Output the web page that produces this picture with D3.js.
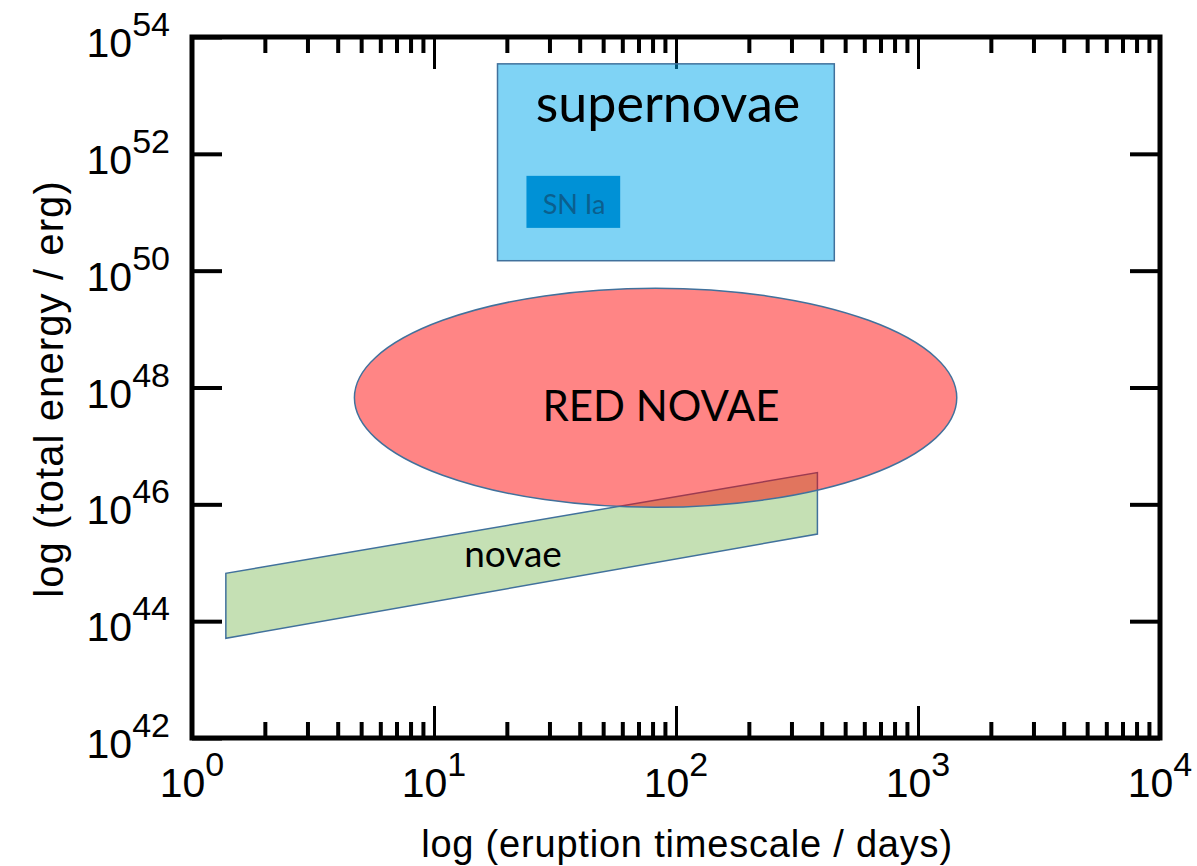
<!DOCTYPE html>
<html>
<head>
<meta charset="utf-8">
<script src="https://cdn.jsdelivr.net/npm/d3@7"></script>
<style>
  body { margin: 0; background: #fff; }
  svg { display: block; }
</style>
</head>
<body>
<div id="chart"></div>
<script>
var w = 1197, h = 866;

// axis decades (powers of ten)
var xExponents = [0, 1, 2, 3, 4];
var yExponents = [42, 44, 46, 48, 50, 52, 54];

// regions: [min, max] in days and erg
var snDays = [18.3, 451],   snErg = [1.48e50, 3.47e53];
var snIaDays = [24.1, 58.8], snIaErg = [5.4e50, 4.2e51];
var redNovaDays = [4.69, 1446], redNovaErg = [8.9e45, 5.0e49];
var novaDays = [1.38, 384];
var novaLowErg = [5.1e43, 3.1e45],  // lower edge, left -> right
    novaHighErg = [6.6e44, 3.5e46]; // upper edge, left -> right

var margin = {top: 37, right: 37, bottom: 128, left: 192},
    width = w - margin.left - margin.right,
    height = h - margin.top - margin.bottom;

var x = d3.scaleLog().domain([1, 1e4]).range([0, width]),
    y = d3.scaleLog().domain([1e42, 1e54]).range([height, 0]);

var svg = d3.select("#chart").append("svg")
    .attr("width", w)
    .attr("height", h);

var g = svg.append("g")
    .attr("transform", "translate(" + margin.left + "," + margin.top + ")");

// x ticks: minor 2..9, major at decades, inward on top and bottom
var xMinor = [];
xExponents.slice(0, -1).forEach(function(e) {
  for (var k = 2; k <= 9; k++) xMinor.push(k * Math.pow(10, e));
});
var xMajor = xExponents.map(function(e) { return Math.pow(10, e); });
var yMajor = yExponents.map(function(e) { return Math.pow(10, e); });

function tickStyle(sel, sw) {
  sel.select(".domain").remove();
  sel.selectAll("line").attr("stroke", "#000").attr("stroke-width", sw);
  sel.selectAll("text").remove();
}

g.append("g").attr("transform", "translate(0," + height + ")")
    .call(d3.axisBottom(x).tickValues(xMinor).tickSize(-16))
    .call(tickStyle, 4);
g.append("g").attr("transform", "translate(0," + height + ")")
    .call(d3.axisBottom(x).tickValues(xMajor).tickSize(-32))
    .call(tickStyle, 3);
g.append("g")
    .call(d3.axisTop(x).tickValues(xMinor).tickSize(-16))
    .call(tickStyle, 4);
g.append("g")
    .call(d3.axisTop(x).tickValues(xMajor).tickSize(-32))
    .call(tickStyle, 3);
g.append("g")
    .call(d3.axisLeft(y).tickValues(yMajor).tickSize(-30))
    .call(tickStyle, 4);
g.append("g").attr("transform", "translate(" + width + ",0)")
    .call(d3.axisRight(y).tickValues(yMajor).tickSize(-30))
    .call(tickStyle, 4);

// frame
g.append("rect")
    .attr("width", width)
    .attr("height", height)
    .attr("fill", "none")
    .attr("stroke", "#000")
    .attr("stroke-width", 5);

// tick labels 10^n
var labelFont = "'Liberation Sans', Arial, Helvetica, sans-serif";
function powLabel(sel) {
  sel.append("tspan").text("10");
  sel.append("tspan")
      .attr("font-size", 34)
      .attr("dy", -21)
      .text(function(d) { return d; });
}

g.selectAll(".xlab")
  .data(xExponents)
  .enter().append("text")
    .attr("class", "xlab")
    .attr("x", function(d) { return x(Math.pow(10, d)); })
    .attr("y", height + 59)
    .attr("text-anchor", "middle")
    .attr("font-family", labelFont)
    .attr("font-size", 41)
    .call(powLabel);

g.selectAll(".ylab")
  .data(yExponents)
  .enter().append("text")
    .attr("class", "ylab")
    .attr("x", -22)
    .attr("y", function(d) { return y(Math.pow(10, d)) + 20; })
    .attr("text-anchor", "end")
    .attr("font-family", labelFont)
    .attr("font-size", 41)
    .call(powLabel);

// axis titles
svg.append("text")
    .attr("x", 687)
    .attr("y", 857)
    .attr("text-anchor", "middle")
    .attr("font-family", labelFont)
    .attr("font-size", 38)
    .attr("letter-spacing", 0.8)
    .text("log (eruption timescale / days)");

svg.append("text")
    .attr("transform", "translate(63,389) rotate(-90)")
    .attr("text-anchor", "middle")
    .attr("font-family", labelFont)
    .attr("font-size", 40)
    .attr("letter-spacing", 1.1)
    .text("log (total energy / erg)");

// supernovae box
var boxStroke = "#41719c";
g.append("rect")
    .attr("x", x(snDays[0]))
    .attr("y", y(snErg[1]))
    .attr("width", x(snDays[1]) - x(snDays[0]))
    .attr("height", y(snErg[0]) - y(snErg[1]))
    .attr("fill", "rgba(0,168,236,0.5)")
    .attr("stroke", boxStroke)
    .attr("stroke-width", 1.5);

g.append("rect")
    .attr("x", x(snIaDays[0]))
    .attr("y", y(snIaErg[1]))
    .attr("width", x(snIaDays[1]) - x(snIaDays[0]))
    .attr("height", y(snIaErg[0]) - y(snIaErg[1]))
    .attr("fill", "#0091d6");

// novae band
var novaPts = [
  [novaDays[0], novaLowErg[0]],
  [novaDays[0], novaHighErg[0]],
  [novaDays[1], novaHighErg[1]],
  [novaDays[1], novaLowErg[1]]
];
g.append("path")
    .attr("d", d3.line().x(function(d) { return x(d[0]); })
                        .y(function(d) { return y(d[1]); })(novaPts) + "Z")
    .attr("fill", "#c5e0b4")
    .attr("stroke", boxStroke)
    .attr("stroke-width", 1.5);

// red novae ellipse
g.append("ellipse")
    .attr("cx", (x(redNovaDays[0]) + x(redNovaDays[1])) / 2)
    .attr("cy", (y(redNovaErg[0]) + y(redNovaErg[1])) / 2)
    .attr("rx", (x(redNovaDays[1]) - x(redNovaDays[0])) / 2)
    .attr("ry", (y(redNovaErg[0]) - y(redNovaErg[1])) / 2)
    .attr("fill", "rgba(255,0,0,0.48)")
    .attr("stroke", boxStroke)
    .attr("stroke-width", 1.5);

// region labels
var regionFont = "Lato, 'Open Sans', sans-serif";
svg.append("text")
    .attr("x", 668).attr("y", 122)
    .attr("text-anchor", "middle")
    .attr("font-family", regionFont)
    .attr("font-size", 52)
    .text("supernovae");

svg.append("text")
    .attr("x", 574).attr("y", 214)
    .attr("text-anchor", "middle")
    .attr("font-family", regionFont)
    .attr("font-size", 27)
    .attr("fill", "#0b5f8e")
    .text("SN Ia");

svg.append("text")
    .attr("x", 661).attr("y", 421)
    .attr("text-anchor", "middle")
    .attr("font-family", regionFont)
    .attr("font-size", 42)
    .text("RED NOVAE");

svg.append("text")
    .attr("x", 513).attr("y", 567)
    .attr("text-anchor", "middle")
    .attr("font-family", regionFont)
    .attr("font-size", 37)
    .text("novae");
</script>
</body>
</html>
